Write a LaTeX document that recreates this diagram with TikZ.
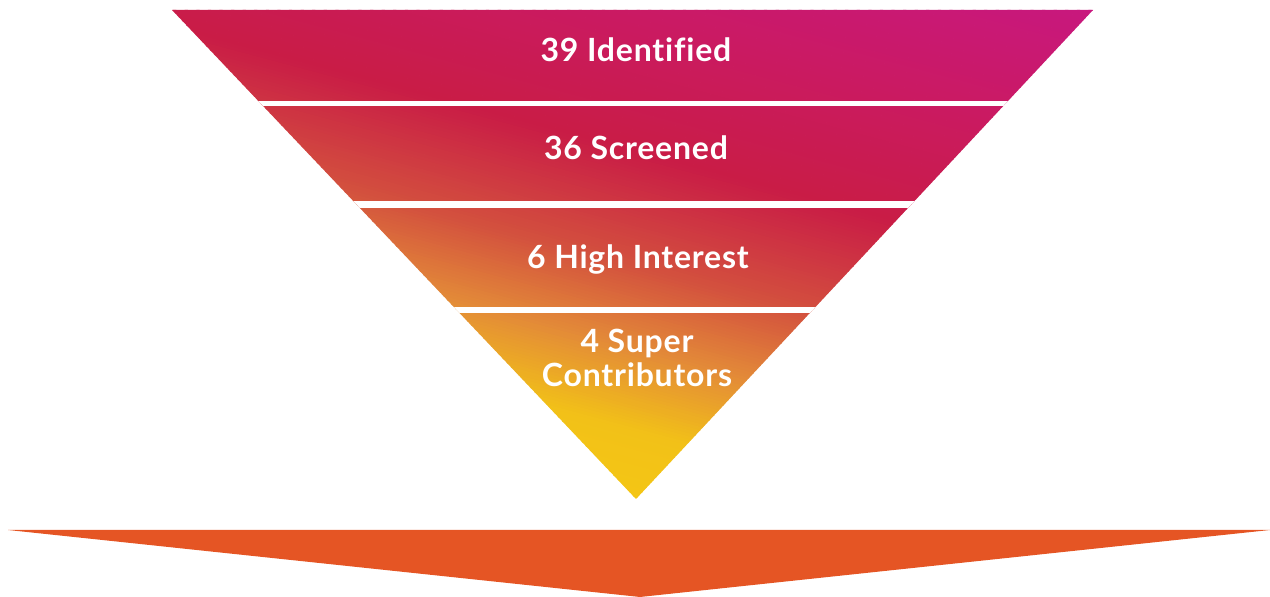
\documentclass[tikz,border=0pt]{standalone}
\usepackage{fontspec}
\newfontfamily\lblfont{Lato}[Ligatures=NoCommon,LetterSpace=2.5]
\definecolor{sA}{HTML}{C8187F}
\definecolor{sB}{HTML}{CA1A63}
\definecolor{sC}{HTML}{C91C46}
\definecolor{sD}{HTML}{D3503E}
\definecolor{sE}{HTML}{E38A38}
\definecolor{sF}{HTML}{F2C118}
\definecolor{sG}{HTML}{F4C714}
\definecolor{arrowor}{HTML}{E55524}
\newcommand\mixgc[4]{\pgfmathtruncatemacro\gP{100*(\gT-(#1))/((#2)-(#1))}\colorlet{gc}{#4!\gP!#3}}
\newcommand\setgc[1]{%
  \pgfmathsetmacro\gT{#1}%
  \ifdim\gT pt<-150pt \mixgc{-280}{-150}{sA}{sB}\else
  \ifdim\gT pt<-20pt \mixgc{-150}{-20}{sB}{sC}\else
  \ifdim\gT pt<90pt \mixgc{-20}{90}{sC}{sD}\else
  \ifdim\gT pt<170pt \mixgc{90}{170}{sD}{sE}\else
  \ifdim\gT pt<250pt \mixgc{170}{250}{sE}{sF}\else
  \mixgc{250}{330}{sF}{sG}\fi\fi\fi\fi\fi}
\tikzset{
  lbl/.style={text=white, inner sep=0pt, anchor=base, font=\lblfont\bfseries\fontsize{16}{17}\selectfont},
  gapbar/.style={fill=white},
}
\begin{document}
\begin{tikzpicture}[x=0.5pt,y=-0.5pt]
\useasboundingbox (0,0) rectangle (1270,597);
% funnel with gradient
\begin{scope}
  \clip (172,10) -- (1093,10) -- (636,499) -- cycle;
  \foreach \t in {-282,-279,...,327} {
    \setgc{\t}
    \fill[gc] ({-0.259*\t+0.966*100},{0.966*\t+0.259*100})
      -- ({-0.259*\t+0.966*1300},{0.966*\t+0.259*1300})
      -- ({-0.259*(\t+3.6)+0.966*1300},{0.966*(\t+3.6)+0.259*1300})
      -- ({-0.259*(\t+3.6)+0.966*100},{0.966*(\t+3.6)+0.259*100}) -- cycle;
  }
  \fill[gapbar] (150,101) rectangle (1110,106.5);
  \fill[gapbar] (150,201.5) rectangle (1110,207.7);
  \fill[gapbar] (150,307) rectangle (1110,313);
\end{scope}
% bottom arrow
\fill[arrowor] (8,530) -- (1270,530) -- (640,597) -- cycle;
% labels
\node[lbl] (t1) at (636,62) {39 Identified};
\node[lbl] (t2) at (636,160) {36 Screened};
\node[lbl] (t3) at (638,269) {6 High Interest};
\node[lbl] (t4a) at (637,353) {4 Super};
\node[lbl] (t4b) at (637,387) {Contributors};
\end{tikzpicture}
\end{document}
